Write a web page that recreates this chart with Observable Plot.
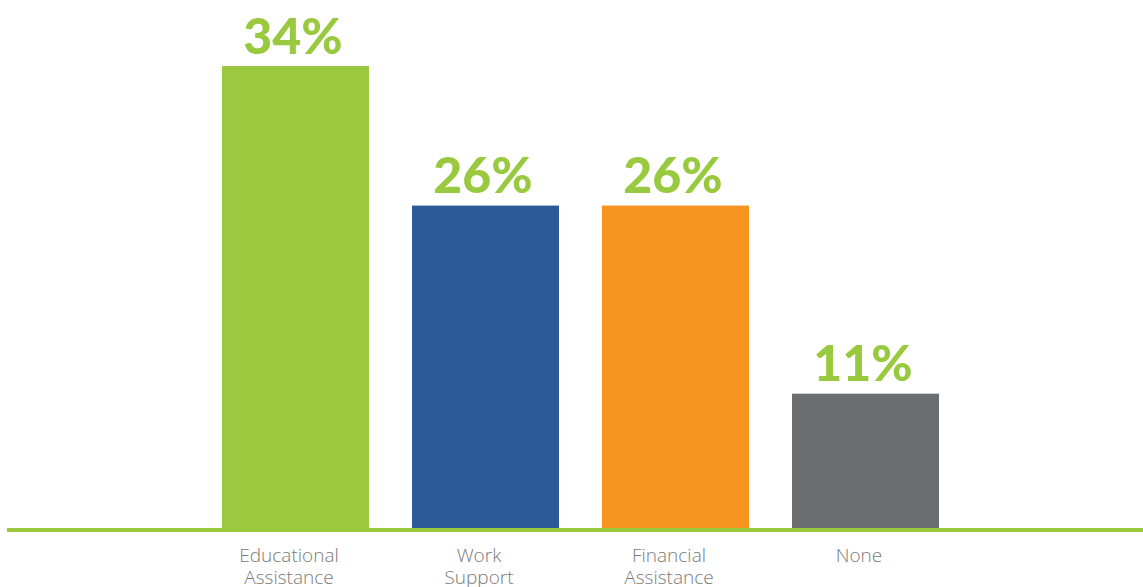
<!DOCTYPE html>
<html>
<head>
<meta charset="utf-8">
<script src="https://cdn.jsdelivr.net/npm/d3@7"></script>
<script src="https://cdn.jsdelivr.net/npm/@observablehq/plot@0.6"></script>
<style>
  html, body { margin: 0; padding: 0; background: #fff; }
  #chart svg { display: block; }
</style>
</head>
<body>
<div id="chart"></div>
<script>
const categories = ["Educational\nAssistance", "Work\nSupport", "Financial\nAssistance", "None"];
const barHeights = [37.2, 26.0, 26.0, 10.9];
const labels = ["34%", "26%", "26%", "11%"];
const colors = ["#9bc83f", "#2b5a9b", "#f5951f", "#6b6e71"];

const data = categories.map((c, i) => ({ category: c, value: barHeights[i], label: labels[i], color: colors[i] }));

const chart = Plot.plot({
  width: 1143,
  height: 587,
  marginLeft: 7,
  marginRight: 0,
  marginTop: 0,
  marginBottom: 57.5,
  style: { fontFamily: "Lato, 'Open Sans', sans-serif", background: "#fff" },
  x: { domain: categories, paddingInner: 0.228, paddingOuter: 1.0957, align: 0.513, axis: null },
  y: { domain: [0, 42.5], axis: null },
  marks: [
    Plot.barY(data, { x: "category", y: "value", fill: "color" }),
    Plot.ruleY([0], { stroke: "#9bc83f", strokeWidth: 4 }),
    Plot.text(data, {
      x: "category", y: "value", text: "label",
      lineAnchor: "bottom", dy: -13, dx: -3,
      fill: "#99c93e", fontSize: 50, fontWeight: 900
    }),
    Plot.text(data, {
      x: "category", y: 0, text: "category",
      lineAnchor: "top", dy: 16, dx: -7, lineHeight: 1.16,
      fill: "#7a7a7a", fontSize: 19, fontWeight: 300,
      fontFamily: "'Open Sans', sans-serif"
    })
  ]
});
document.getElementById("chart").appendChild(chart);
</script>
</body>
</html>
